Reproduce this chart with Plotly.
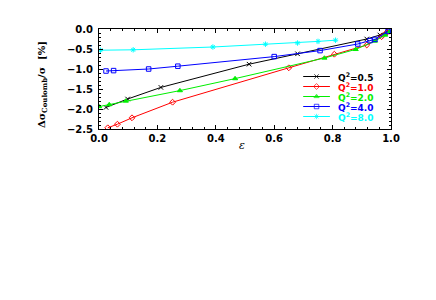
import plotly.graph_objects as go

# Data
eps_05 = [0.024, 0.098, 0.212, 0.514, 0.68, 0.917, 0.962, 0.99]
val_05 = [-1.96, -1.75, -1.46, -0.88, -0.62, -0.25, -0.15, -0.05]

eps_10 = [0.03, 0.063, 0.113, 0.252, 0.65, 0.806, 0.917, 0.968, 0.985, 0.995]
val_10 = [-2.47, -2.38, -2.22, -1.83, -0.97, -0.63, -0.40, -0.19, -0.09, -0.04]

eps_20 = [0.0, 0.035, 0.092, 0.277, 0.466, 0.772, 0.879, 0.945, 0.98, 0.995]
val_20 = [-1.94, -1.89, -1.80, -1.54, -1.24, -0.725, -0.51, -0.30, -0.15, -0.06]

eps_40 = [0.024, 0.05, 0.17, 0.27, 0.60, 0.757, 0.886, 0.928, 0.945, 0.99]
val_40 = [-1.05, -1.04, -1.00, -0.93, -0.69, -0.54, -0.375, -0.29, -0.26, -0.06]

eps_80 = [0.005, 0.117, 0.39, 0.57, 0.68, 0.75, 0.81]
val_80 = [-0.53, -0.52, -0.45, -0.38, -0.35, -0.31, -0.28]

q2_labels = ["0.5", "1.0", "2.0", "4.0", "8.0"]
colors = ["black", "red", "#00ee00", "blue", "cyan"]
symbols = ["x-thin-open", "diamond-open", "triangle-up", "square-open", "asterisk-open"]
xs = [eps_05, eps_10, eps_20, eps_40, eps_80]
ys = [val_05, val_10, val_20, val_40, val_80]

fig = go.Figure()
for q, x, y, c, sym in zip(q2_labels, xs, ys, colors, symbols):
    fig.add_trace(go.Scatter(
        x=x, y=y, mode="lines+markers", showlegend=False,
        line=dict(color=c, width=1),
        marker=dict(symbol=sym, size=4.5, color=c, line=dict(color=c, width=1)),
    ))

# Manual compact legend drawn on a hidden helper axis pair
n = len(q2_labels)
for i, (q, c, sym) in enumerate(zip(q2_labels, colors, symbols)):
    row = n - 1 - i
    fig.add_trace(go.Scatter(
        x=[0, 0.5, 1], y=[row, row, row], xaxis="x2", yaxis="y2",
        mode="lines+markers", showlegend=False, hoverinfo="skip",
        line=dict(color=c, width=1),
        marker=dict(symbol=sym, size=[0, 4.5, 0], color=c, line=dict(color=c, width=1)),
    ))
    fig.add_annotation(text=f"Q<sup>2</sup>=" + q, xref="paper", yref="y2",
                       x=0.812, y=row, xanchor="left", yanchor="middle", showarrow=False,
                       font=dict(family="DejaVu Sans", size=9, color=c, weight="bold"))

font = dict(family="DejaVu Sans", size=10, color="black", weight="bold")
axis_common = dict(
    showgrid=False, zeroline=False, showline=True, linecolor="black", linewidth=1,
    mirror="allticks", ticks="inside", ticklen=4, tickcolor="black",
    tickfont=font,
)
fig.update_xaxes(range=[0, 1], dtick=0.2, tickformat=".1f",
                 minor=dict(ticks="inside", ticklen=2, dtick=0.04, tickcolor="black"),
                 **axis_common)
fig.update_yaxes(range=[-2.5, 0], dtick=0.5, tickformat=".1f", ticklabelstandoff=3,
                 minor=dict(ticks="inside", ticklen=2, dtick=0.1, tickcolor="black"),
                 **axis_common)

fig.update_layout(
    xaxis2=dict(domain=[0.699, 0.791], range=[0, 1], visible=False, anchor="y2"),
    yaxis2=dict(domain=[0.075, 0.575], range=[-0.5, 4.5], visible=False, anchor="x2"),
)

fig.add_annotation(text="<i>ε</i>", xref="paper", yref="paper", x=0.489, y=-0.16,
                   xanchor="center", yanchor="middle",
                   showarrow=False, font=dict(family="DejaVu Serif", size=11, color="black"))
fig.add_annotation(text="Δσ<sub>Coulomb</sub>/σ  [%]", xref="paper", yref="paper",
                   x=-0.195, y=0.44, xanchor="center", yanchor="middle",
                   textangle=-90, showarrow=False,
                   font=dict(family="DejaVu Serif", size=10, color="black", weight="bold"))

# The page body adds an 8px offset, so sizes/margins compensate for it
fig.update_layout(
    width=428, height=292,
    margin=dict(l=91, r=45, t=21, b=171),
    paper_bgcolor="white", plot_bgcolor="white",
    showlegend=False,
)

fig.write_html("out.html")
